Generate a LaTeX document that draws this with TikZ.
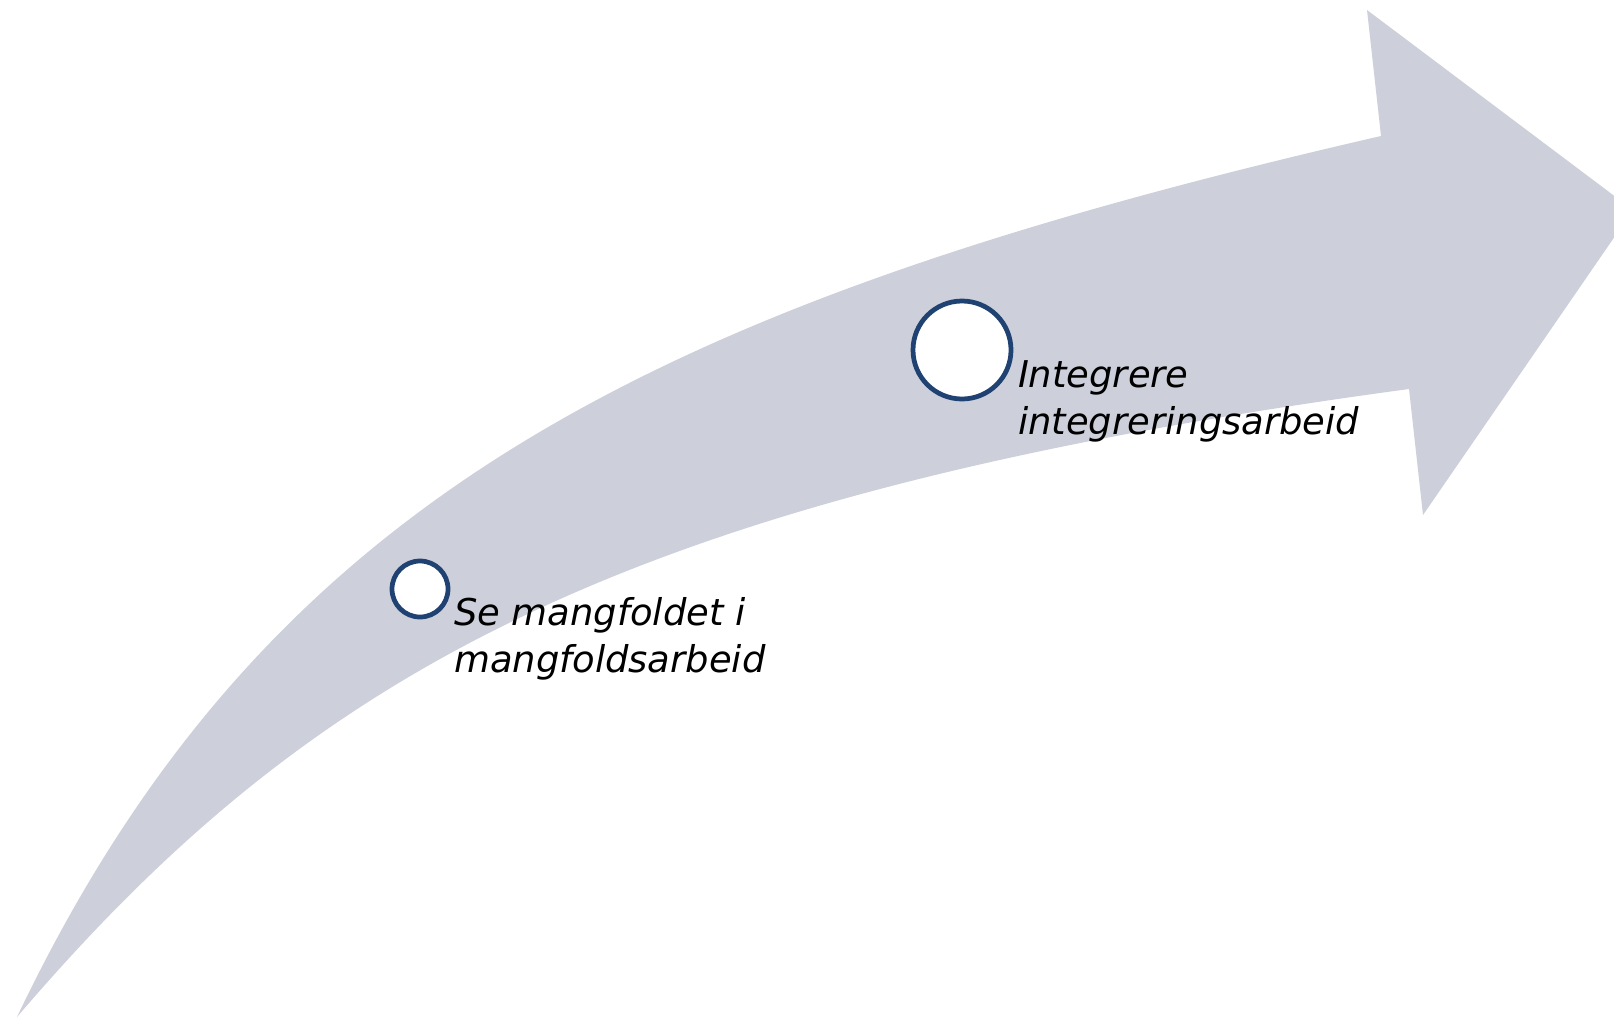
\documentclass[tikz,border=0pt]{standalone}
\usepackage{fontspec}
\setmainfont{DejaVu Sans}
\usetikzlibrary{positioning, calc}
\definecolor{mgrey}{RGB}{205,208,218}
\definecolor{mnavy}{RGB}{31,66,114}

\begin{document}
\begin{tikzpicture}[
  stage/.style={circle, draw=mnavy, line width=1.35pt, fill=white, inner sep=0pt},
  lbl/.style={font=\fontsize{10.5}{13.3}\selectfont\itshape, align=left,
              inner sep=0pt, anchor=north west}
]
\useasboundingbox (0,0) rectangle (16.14,10.18);
\clip (0,0) rectangle (16.14,10.18);
% curved band with arrow head
\fill[mgrey] (0.17,0.01) .. controls (2.64,5.19) and (6.505,7.14) .. (13.81,8.82)
  -- (13.67,10.08) -- (16.33,8.08) -- (14.23,5.03) -- (14.09,6.29)
  .. controls (6.17,5.22) and (3.095,3.43) .. (0.17,0.01) -- cycle;
% stages
\node[stage, minimum size=0.56cm] (diversity)   at (4.20,4.29) {};
\node[stage, minimum size=0.98cm] (integration) at (9.62,6.68) {};
\node[lbl] (diversitytext)   at ([xshift=0.03cm, yshift=-0.08cm]diversity.east)
  {Se mangfoldet i\\mangfoldsarbeid};
\node[lbl] (integrationtext) at ([xshift=0.04cm, yshift=-0.10cm]integration.east)
  {Integrere\\integreringsarbeid};
\end{tikzpicture}
\end{document}
